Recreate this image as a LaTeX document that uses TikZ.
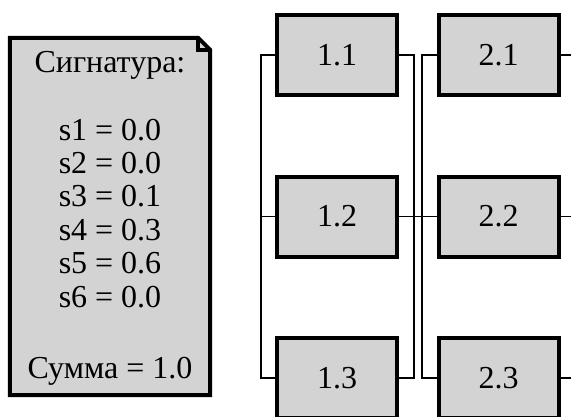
\documentclass[tikz,border=0pt]{standalone}
\usepackage{fontspec}
\setmainfont{Liberation Serif}
\definecolor{boxgray}{HTML}{D3D3D3}

\begin{document}
\begin{tikzpicture}[x=1pt,y=-1pt]
    \tikzstyle{blk}=[rectangle,draw=black,line width=4pt,fill=boxgray,minimum width=120pt,minimum height=80pt,inner sep=0pt,font=\fontsize{32}{34}\selectfont]
    \tikzstyle{txt}=[anchor=base,inner sep=0pt,font=\fontsize{32}{34}\selectfont]
    \tikzstyle{wire}=[line width=1.8pt]
    \useasboundingbox (0,0) rectangle (571,416);
    \clip (0,0) rectangle (571,416);

    % signature note
    \node (sig)[minimum width=200pt,minimum height=357pt,inner sep=0pt] at (110,216.5) {};
    \draw[line width=4pt,fill=boxgray,line join=miter] (sig.north west) -- ([xshift=-12pt]sig.north east) -- ([yshift=-12pt]sig.north east) -- (sig.south east) -- (sig.south west) -- cycle;
    \draw[line width=4pt] ([xshift=-12pt]sig.north east) -- ([xshift=-12pt,yshift=-12pt]sig.north east) -- ([yshift=-12pt]sig.north east);
    \node (title)[txt] at (110,72) {Сигнатура:};
    \foreach \v [count=\i] in {0.0,0.0,0.1,0.3,0.6,0.0} {
        \node (s\i)[txt] at (110,140+33.4*\i-33.4) {s\i\ = \v};
    }
    \node (total)[txt] at (110,378) {Сумма = 1.0};

    % blocks
    \node (b11)[blk] at (337,55) {1.1};
    \node (b12)[blk] at (337,216.5) {1.2};
    \node (b13)[blk] at (337,378) {1.3};
    \node (b21)[blk] at (498.5,55) {2.1};
    \node (b22)[blk] at (498.5,216.5) {2.2};
    \node (b23)[blk] at (498.5,378) {2.3};

    % wiring
    \draw[wire] (b11.west) -- ++(-14,0) |- (b13.west);
    \draw[wire] (b12.west) -- ++(-14,0);
    \draw[wire] (b11.east) -- ++(15,0) |- (b13.east);
    \draw[wire] (b21.west) -- ++(-14.5,0) |- (b23.west);
    \draw[wire] (b12.east) -- (b22.west);
    \draw[wire] (b21.east) -- ++(20,0);
    \draw[wire] (b22.east) -- ++(20,0);
    \draw[wire] (b23.east) -- ++(20,0);
\end{tikzpicture}
\end{document}
